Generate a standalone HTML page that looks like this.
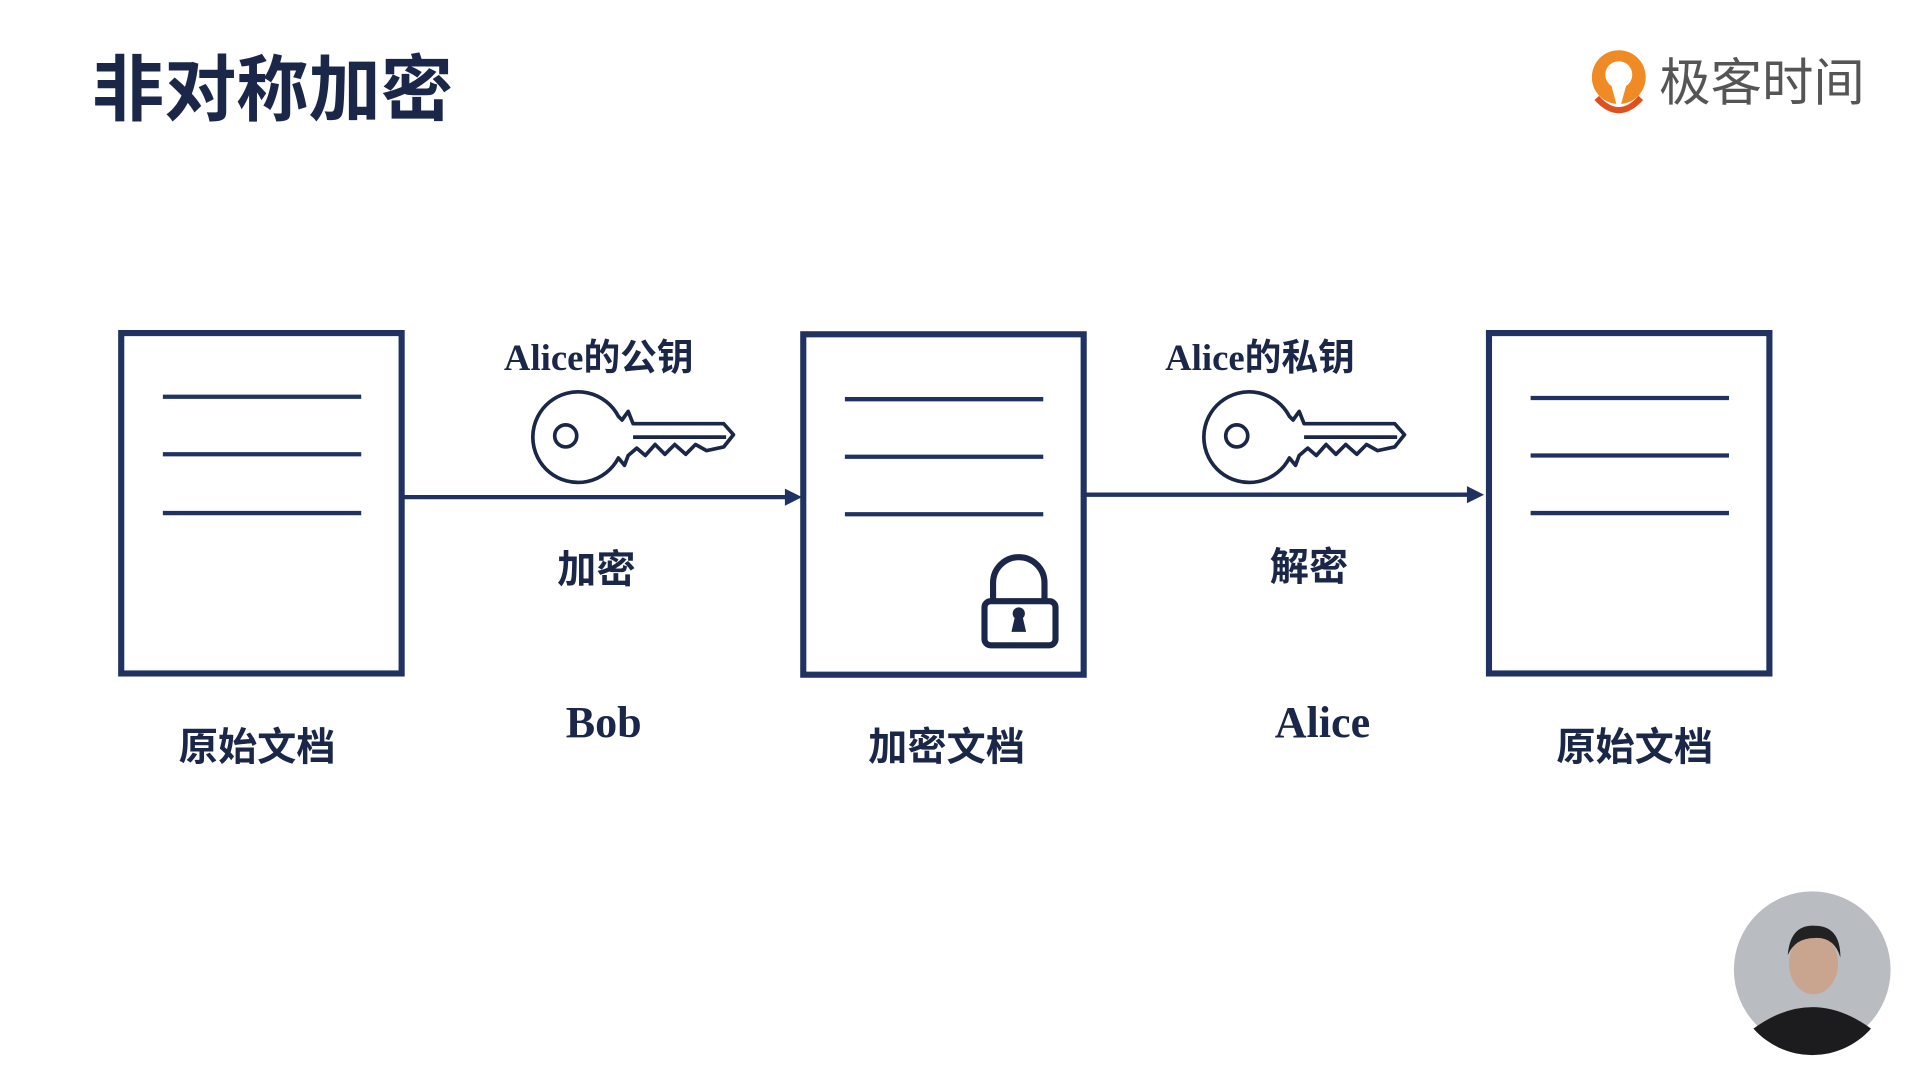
<!DOCTYPE html>
<html><head><meta charset="utf-8">
<style>
html,body{margin:0;padding:0;background:#fff;width:1920px;height:1080px;overflow:hidden}
svg{display:block}
.cjk{font-family:"Liberation Sans","Noto Sans CJK SC",sans-serif;font-weight:bold}
.ser{font-family:"Liberation Serif","Noto Serif CJK SC",serif;font-weight:bold}
</style></head><body>
<svg width="1920" height="1080" viewBox="0 0 1568 882" xmlns="http://www.w3.org/2000/svg">
<rect width="1568" height="882" fill="#fff"/>
<text x="75" y="94" class="cjk" font-size="59" fill="#1b2748">非对称加密</text>
<g>
<circle cx="1322" cy="63" r="22" fill="#f08a24"/>
<circle cx="1322" cy="61" r="11" fill="#fff"/>
<path d="M1316 70 L1322 92 L1328 70 Z" fill="#fff"/>
<path d="M1304 80 Q1322 100 1340 80" stroke="#e0501f" stroke-width="5" fill="none"/>
<text x="1355" y="82" font-family="Liberation Sans,'Noto Sans CJK SC',sans-serif" font-size="42" fill="#555">极客时间</text>
</g>
<g stroke="#1f3262" fill="none">
<rect x="99" y="272" width="229" height="278" stroke-width="5"/>
<rect x="656" y="273" width="229" height="278" stroke-width="5"/>
<rect x="1216" y="272" width="229" height="278" stroke-width="5"/>
<g stroke-width="3.5">
<line x1="133" y1="324" x2="295" y2="324"/><line x1="133" y1="371" x2="295" y2="371"/><line x1="133" y1="419" x2="295" y2="419"/>
<line x1="690" y1="326" x2="852" y2="326"/><line x1="690" y1="373" x2="852" y2="373"/><line x1="690" y1="420" x2="852" y2="420"/>
<line x1="1250" y1="325" x2="1412" y2="325"/><line x1="1250" y1="372" x2="1412" y2="372"/><line x1="1250" y1="419" x2="1412" y2="419"/>
</g>
<line x1="330" y1="406" x2="645" y2="406" stroke-width="3.5"/>
<line x1="887" y1="404" x2="1202" y2="404" stroke-width="3.5"/>
</g>
<path d="M641 399 L655 406 L641 413 Z" fill="#1f3262"/>
<path d="M1198 397 L1212 404 L1198 411 Z" fill="#1f3262"/>
<defs>
<g id="key" fill="#fff" stroke="#1b2748" stroke-width="3" stroke-linejoin="round">
<path d="M500 340 A37 37 0 1 0 500 374 L505 380 L508 372 L515 366 L522 372 L530 363 L538 371 L546 363 L555 371 L563 363 L572 368 L586 365 L594 355 L586 346 L512 346 L508 336 L503 343 Z"/>
<circle cx="457" cy="356" r="9"/>
<line x1="512" y1="357" x2="588" y2="357"/>
</g>
</defs>
<use href="#key" transform="translate(5,0)"/>
<use href="#key" transform="translate(553,0)"/>
<g stroke="#1b2748" fill="none" stroke-width="5">
<path d="M811 492 V476 A21 21 0 0 1 853 476 V492"/>
<rect x="804" y="491" width="58" height="36" rx="5"/>
</g>
<circle cx="832" cy="501" r="5" fill="#1b2748"/>
<path d="M829 503 L826 516 L838 516 L835 503 Z" fill="#1b2748"/>
<g fill="#1b2748" text-anchor="middle">
<text x="489" y="302" class="ser" font-size="30">Alice<tspan class="cjk">的公钥</tspan></text>
<text x="1029" y="302" class="ser" font-size="30">Alice<tspan class="cjk">的私钥</tspan></text>
<text x="487" y="476" class="cjk" font-size="32">加密</text>
<text x="1069" y="474" class="cjk" font-size="32">解密</text>
<text x="493" y="602" class="ser" font-size="36">Bob</text>
<text x="1080" y="602" class="ser" font-size="36">Alice</text>
<text x="210" y="621" class="cjk" font-size="32">原始文档</text>
<text x="773" y="621" class="cjk" font-size="32">加密文档</text>
<text x="1335" y="621" class="cjk" font-size="32">原始文档</text>
</g>
<circle cx="1480" cy="792" r="64" fill="#b9bcc0"/>
<path d="M1432 840 Q1480 805 1528 840 A64 64 0 0 1 1432 840 Z" fill="#1c1c1e"/>
<ellipse cx="1481" cy="787" rx="20" ry="25" fill="#c9a48e"/>
<path d="M1460 780 Q1462 755 1482 756 Q1503 756 1503 782 Q1498 765 1482 766 Q1466 766 1460 780Z" fill="#222"/>
</svg>
</body></html>
